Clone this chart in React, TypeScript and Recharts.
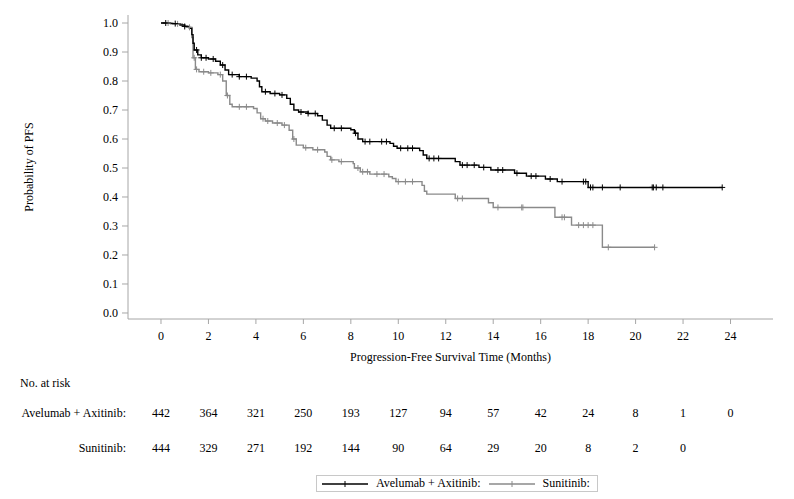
import React from 'react';
import { ComposedChart, Line, Scatter, XAxis, YAxis } from 'recharts';

const monthTicks = [0, 2, 4, 6, 8, 10, 12, 14, 16, 18, 20, 22, 24];
const probTicks = [0, 0.1, 0.2, 0.3, 0.4, 0.5, 0.6, 0.7, 0.8, 0.9, 1.0];

// Kaplan-Meier steps
const avelumabTimes = [
  0, 0.4, 0.8, 1.0, 1.2, 1.3, 1.35, 1.4, 1.55, 1.7, 2.0, 2.3, 2.5, 2.7, 2.85, 3.3, 3.8, 4.05, 4.15, 4.25,
  4.6, 5.0, 5.3, 5.45, 5.6, 5.8, 6.2, 6.6, 6.8, 7.0, 7.15, 8.0, 8.15, 8.3, 8.5, 9.65, 9.8, 9.95, 10.9, 11.05,
  11.2, 12.4, 12.6, 13.4, 13.9, 14.9, 15.4, 16.2, 16.7, 18.0, 23.65,
];
const avelumabSurv = [
  1.0, 0.998, 0.993, 0.988, 0.982, 0.96, 0.93, 0.907, 0.89, 0.88, 0.876, 0.868, 0.855, 0.838, 0.822, 0.815, 0.81, 0.8, 0.78, 0.763,
  0.757, 0.752, 0.74, 0.72, 0.7, 0.693, 0.688, 0.68, 0.665, 0.648, 0.637, 0.632, 0.62, 0.6, 0.591, 0.585, 0.575, 0.568, 0.56, 0.545,
  0.533, 0.522, 0.51, 0.502, 0.493, 0.482, 0.472, 0.462, 0.453, 0.433, 0.433,
];
const sunitinibTimes = [
  0, 0.5, 0.9, 1.1, 1.3, 1.35, 1.45, 1.6, 2.0, 2.4, 2.6, 2.75, 2.9, 3.0, 3.9, 4.05, 4.2, 4.4, 4.7, 5.1,
  5.4, 5.55, 5.7, 6.0, 6.4, 6.9, 7.0, 7.15, 7.5, 8.1, 8.15, 8.4, 8.8, 9.6, 9.75, 9.9, 11.0, 11.1, 11.2, 12.4,
  13.8, 14.0, 16.6, 17.3, 18.6, 20.8,
];
const sunitinibSurv = [
  1.0, 0.997, 0.99, 0.985, 0.95, 0.88, 0.84, 0.832, 0.828, 0.822, 0.8, 0.75, 0.72, 0.711, 0.705, 0.69, 0.67, 0.662, 0.655, 0.648,
  0.63, 0.6, 0.579, 0.57, 0.563, 0.555, 0.54, 0.528, 0.522, 0.515, 0.5, 0.487, 0.479, 0.47, 0.464, 0.453, 0.44, 0.42, 0.41, 0.395,
  0.38, 0.364, 0.33, 0.303, 0.2265, 0.2265,
];

// censored observations (+ marks)
const avelumabCensor = [
  0.2, 0.6, 1.0, 1.5, 1.7, 1.9, 2.2, 2.6, 3.0, 3.3, 3.6, 4.4, 4.8, 5.1, 5.9, 6.2, 6.5, 7.3, 7.6, 8.2,
  8.6, 8.8, 9.3, 9.5, 10.1, 10.4, 10.6, 11.3, 11.5, 11.7, 12.7, 12.9, 13.2, 13.6, 14.2, 14.4, 15.0, 15.6, 15.8, 16.4,
  16.9, 17.8, 17.9, 18.1, 18.2, 18.6, 19.35, 20.7, 20.75, 20.87, 21.15, 23.65,
];
const sunitinibCensor = [
  0.3, 0.7, 1.2, 1.4, 1.5, 1.8, 2.1, 2.5, 2.8, 3.3, 3.6, 4.3, 4.5, 4.9, 5.2, 5.6, 6.1, 6.6, 7.2, 7.6,
  8.3, 8.5, 8.7, 9.1, 9.4, 10.0, 10.3, 10.6, 12.5, 12.7, 14.2, 15.2, 15.25, 16.9, 17.0, 17.6, 17.8, 18.0, 18.2, 18.85, 20.8,
];

const avelumabAtRisk = [442, 364, 321, 250, 193, 127, 94, 57, 42, 24, 8, 1, 0];
const sunitinibAtRisk = [444, 329, 271, 192, 144, 90, 64, 29, 20, 8, 2, 0];

const FONT = '"Liberation Serif", "Times New Roman", serif';
const AXIS = '#a6a6a6';
const BLACK = '#000000';
const GREY = '#8a8a8a';

const toSteps = (times: number[], surv: number[]) => times.map((t, i) => ({ t, s: surv[i] }));

const survAt = (times: number[], surv: number[], x: number) => {
  let k = 0;
  for (let i = 0; i < times.length; i++) if (times[i] <= x) k = i;
  return surv[k];
};

const toCensor = (cens: number[], times: number[], surv: number[]) =>
  cens.map((t) => ({ t, s: survAt(times, surv, t) }));

const avelumabData = toSteps(avelumabTimes, avelumabSurv);
const sunitinibData = toSteps(sunitinibTimes, sunitinibSurv);
const avelumabMarks = toCensor(avelumabCensor, avelumabTimes, avelumabSurv);
const sunitinibMarks = toCensor(sunitinibCensor, sunitinibTimes, sunitinibSurv);

const plus = (color: string) => (props: any) => {
  const { cx, cy } = props;
  return <path d={`M${cx - 3},${cy}h6M${cx},${cy - 3}v6`} stroke={color} strokeWidth={1} fill="none" />;
};

const txt = { fontFamily: FONT, fontSize: 12, fill: '#000' };

const riskTick = (counts: number[], dy: number) => (p: any) => {
  const idx = monthTicks.indexOf(p.payload.value);
  if (idx < 0 || idx >= counts.length) return <g />;
  return (
    <text x={p.x} y={p.y + dy} textAnchor="middle" dominantBaseline="central" {...txt}>
      {counts[idx]}
    </text>
  );
};

const LegendSample = ({ color }: { color: string }) => (
  <svg width={46} height={10} style={{ display: 'block' }}>
    <line x1={0} y1={5} x2={46} y2={5} stroke={color} strokeWidth={1.3} />
    <path d="M23,2v6" stroke={color} strokeWidth={1} />
  </svg>
);

export default function App() {
  return (
    <div style={{ position: 'relative', width: 794, height: 499, background: '#fff', fontFamily: FONT }}>
      <style>{'body{margin:0}'}</style>
      <ComposedChart width={794} height={499} margin={{ top: 15, right: 21, bottom: 40, left: 0 }}>
        <YAxis
          dataKey="s"
          type="number"
          domain={[-0.0207, 1.0276]}
          allowDataOverflow
          ticks={probTicks}
          width={128}
          stroke={AXIS}
          tickSize={6}
          tickMargin={4}
          tick={(p: any) => (
            <text x={p.x} y={p.y} textAnchor="end" dominantBaseline="central" {...txt}>
              {Number(p.payload.value).toFixed(1)}
            </text>
          )}
          label={{
            content: (p: any) => (
              <text
                x={29}
                y={p.viewBox.y + p.viewBox.height / 2}
                transform={`rotate(-90 29 ${p.viewBox.y + p.viewBox.height / 2})`}
                textAnchor="middle"
                dominantBaseline="central"
                {...txt}
              >
                Probability of PFS
              </text>
            ),
          }}
        />
        <XAxis
          dataKey="t"
          type="number"
          domain={[-1.39, 25.79]}
          allowDataOverflow
          ticks={monthTicks}
          height={50}
          stroke={AXIS}
          tickSize={5}
          tickMargin={0}
          tick={(p: any) => (
            <text x={p.x} y={p.y + 12} textAnchor="middle" dominantBaseline="central" {...txt}>
              {p.payload.value}
            </text>
          )}
          label={{
            content: (p: any) => (
              <text
                x={p.viewBox.x + p.viewBox.width / 2}
                y={p.viewBox.y + 38}
                textAnchor="middle"
                dominantBaseline="central"
                {...txt}
              >
                Progression-Free Survival Time (Months)
              </text>
            ),
          }}
        />
        <XAxis
          xAxisId="r1"
          dataKey="t"
          type="number"
          domain={[-1.39, 25.79]}
          allowDataOverflow
          ticks={monthTicks}
          height={60}
          axisLine={false}
          tickLine={false}
          tickSize={0}
          tickMargin={0}
          tick={riskTick(avelumabAtRisk, 44)}
          label={{
            content: (p: any) => (
              <g>
                <text x={20} y={p.viewBox.y + 14} dominantBaseline="central" {...txt}>
                  No. at risk
                </text>
                <text x={126} y={p.viewBox.y + 44} textAnchor="end" dominantBaseline="central" {...txt}>
                  Avelumab + Axitinib:
                </text>
              </g>
            ),
          }}
        />
        <XAxis
          xAxisId="r2"
          dataKey="t"
          type="number"
          domain={[-1.39, 25.79]}
          allowDataOverflow
          ticks={monthTicks}
          height={30}
          axisLine={false}
          tickLine={false}
          tickSize={0}
          tickMargin={0}
          tick={riskTick(sunitinibAtRisk, 19)}
          label={{
            content: (p: any) => (
              <text x={126} y={p.viewBox.y + 19} textAnchor="end" dominantBaseline="central" {...txt}>
                Sunitinib:
              </text>
            ),
          }}
        />
        <Line
          data={sunitinibData}
          dataKey="s"
          type="stepAfter"
          stroke={GREY}
          strokeWidth={1.4}
          dot={false}
          activeDot={false}
          isAnimationActive={false}
        />
        <Line
          data={avelumabData}
          dataKey="s"
          type="stepAfter"
          stroke={BLACK}
          strokeWidth={1.4}
          dot={false}
          activeDot={false}
          isAnimationActive={false}
        />
        <Scatter data={sunitinibMarks} dataKey="s" shape={plus(GREY)} isAnimationActive={false} />
        <Scatter data={avelumabMarks} dataKey="s" shape={plus(BLACK)} isAnimationActive={false} />
      </ComposedChart>
      <div
        style={{
          position: 'absolute',
          left: 316,
          top: 475,
          width: 282,
          height: 17,
          border: '1px solid #c8c8c8',
          boxSizing: 'border-box',
          display: 'flex',
          alignItems: 'center',
          fontSize: 12,
          color: '#000',
        }}
      >
        <div style={{ marginLeft: 5 }}>
          <LegendSample color={BLACK} />
        </div>
        <span style={{ marginLeft: 8 }}>Avelumab + Axitinib:</span>
        <div style={{ marginLeft: 8 }}>
          <LegendSample color={GREY} />
        </div>
        <span style={{ marginLeft: 8 }}>Sunitinib:</span>
      </div>
    </div>
  );
}
